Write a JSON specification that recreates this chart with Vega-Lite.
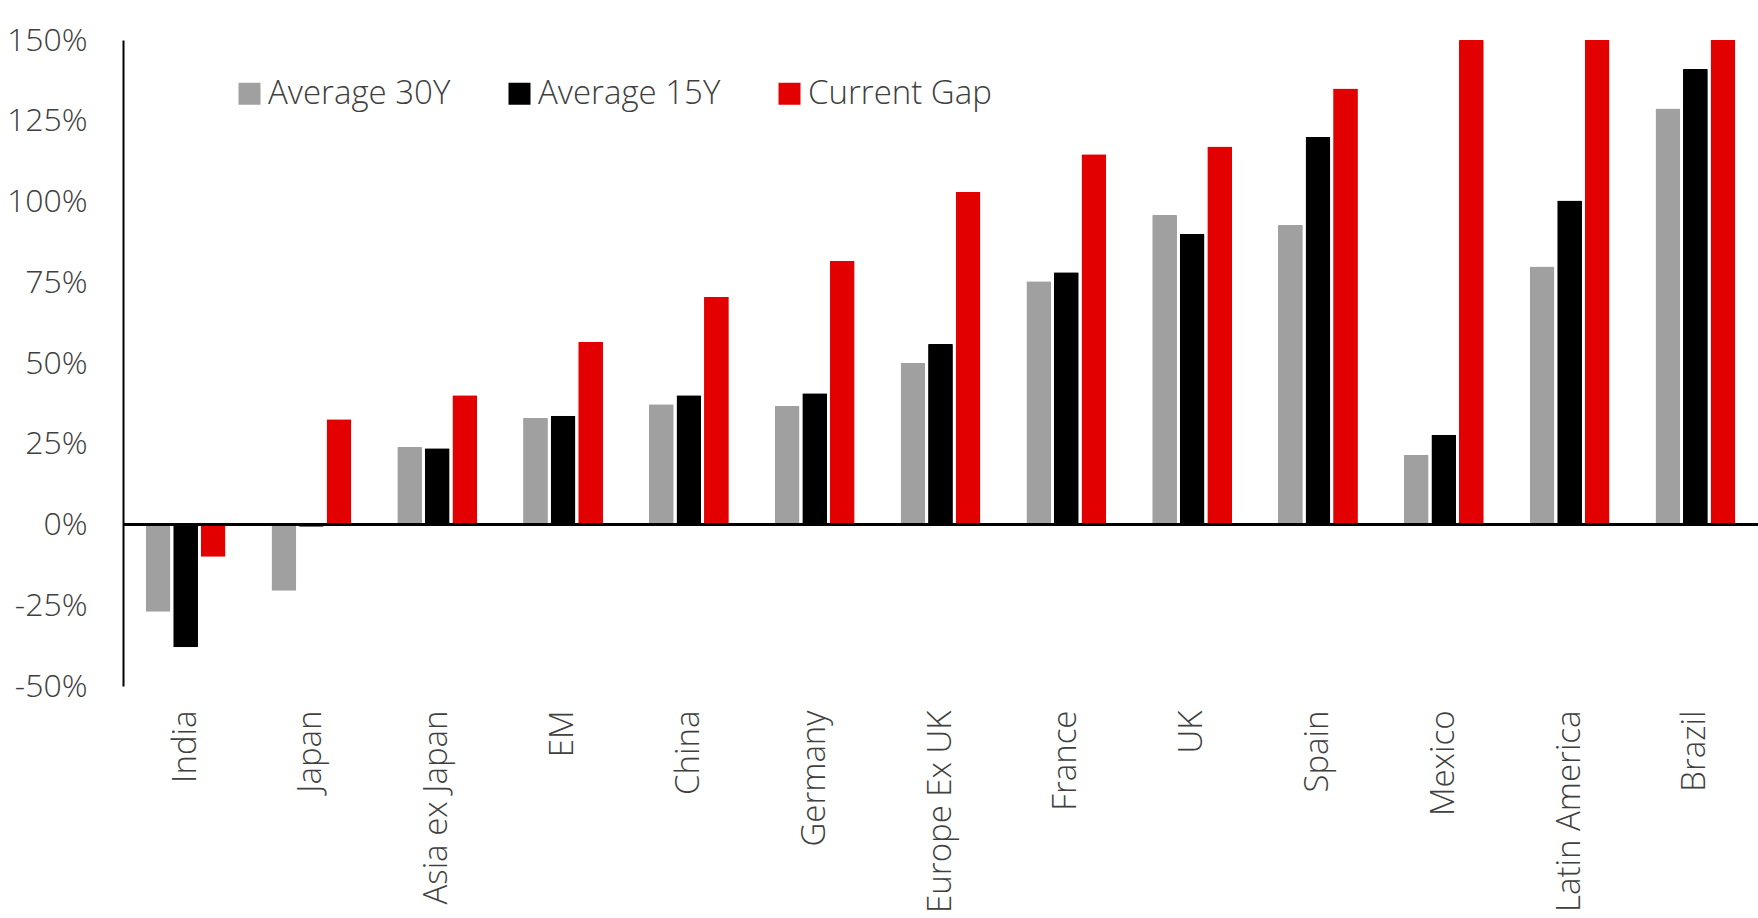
{
  "$schema": "https://vega.github.io/schema/vega-lite/v6.json",
  "width": 1635,
  "height": 646,
  "autosize": {"type": "none"},
  "padding": {"left": 123, "top": 40, "right": 0, "bottom": 232},
  "background": "white",
  "config": {
    "view": {"stroke": null},
    "axis": {"grid": false, "ticks": false}
  },
  "data": {
    "values": [
      {"country": "India", "series": "Average 30Y", "value": -0.27},
      {"country": "India", "series": "Average 15Y", "value": -0.38},
      {"country": "India", "series": "Current Gap", "value": -0.10},
      {"country": "Japan", "series": "Average 30Y", "value": -0.205},
      {"country": "Japan", "series": "Average 15Y", "value": -0.007},
      {"country": "Japan", "series": "Current Gap", "value": 0.326},
      {"country": "Asia ex Japan", "series": "Average 30Y", "value": 0.24},
      {"country": "Asia ex Japan", "series": "Average 15Y", "value": 0.236},
      {"country": "Asia ex Japan", "series": "Current Gap", "value": 0.40},
      {"country": "EM", "series": "Average 30Y", "value": 0.33},
      {"country": "EM", "series": "Average 15Y", "value": 0.337},
      {"country": "EM", "series": "Current Gap", "value": 0.566},
      {"country": "China", "series": "Average 30Y", "value": 0.372},
      {"country": "China", "series": "Average 15Y", "value": 0.40},
      {"country": "China", "series": "Current Gap", "value": 0.705},
      {"country": "Germany", "series": "Average 30Y", "value": 0.368},
      {"country": "Germany", "series": "Average 15Y", "value": 0.406},
      {"country": "Germany", "series": "Current Gap", "value": 0.816},
      {"country": "Europe Ex UK", "series": "Average 30Y", "value": 0.50},
      {"country": "Europe Ex UK", "series": "Average 15Y", "value": 0.559},
      {"country": "Europe Ex UK", "series": "Current Gap", "value": 1.03},
      {"country": "France", "series": "Average 30Y", "value": 0.753},
      {"country": "France", "series": "Average 15Y", "value": 0.781},
      {"country": "France", "series": "Current Gap", "value": 1.146},
      {"country": "UK", "series": "Average 30Y", "value": 0.958},
      {"country": "UK", "series": "Average 15Y", "value": 0.899},
      {"country": "UK", "series": "Current Gap", "value": 1.17},
      {"country": "Spain", "series": "Average 30Y", "value": 0.927},
      {"country": "Spain", "series": "Average 15Y", "value": 1.20},
      {"country": "Spain", "series": "Current Gap", "value": 1.35},
      {"country": "Mexico", "series": "Average 30Y", "value": 0.215},
      {"country": "Mexico", "series": "Average 15Y", "value": 0.278},
      {"country": "Mexico", "series": "Current Gap", "value": 1.5},
      {"country": "Latin America", "series": "Average 30Y", "value": 0.799},
      {"country": "Latin America", "series": "Average 15Y", "value": 1.003},
      {"country": "Latin America", "series": "Current Gap", "value": 1.5},
      {"country": "Brazil", "series": "Average 30Y", "value": 1.288},
      {"country": "Brazil", "series": "Average 15Y", "value": 1.41},
      {"country": "Brazil", "series": "Current Gap", "value": 1.5}
    ]
  },
  "layer": [
    {
      "mark": {"type": "bar", "cornerRadius": 1},
      "encoding": {
        "x": {
          "field": "country",
          "type": "nominal",
          "sort": null,
          "scale": {"paddingInner": 0.365, "paddingOuter": 0.18},
          "axis": {
            "title": null,
            "domain": false,
            "labelAngle": -90,
            "labelAlign": "right",
            "labelBaseline": "middle",
            "labelPadding": 24,
            "labelLimit": 0,
            "labelFont": "Open Sans",
            "labelFontWeight": 300,
            "labelFontSize": 33,
            "labelColor": "#404040"
          }
        },
        "xOffset": {
          "field": "series",
          "type": "nominal",
          "sort": ["Average 30Y", "Average 15Y", "Current Gap"],
          "scale": {"paddingInner": 0.1, "paddingOuter": 0}
        },
        "y": {
          "field": "value",
          "type": "quantitative",
          "scale": {"domain": [-0.5, 1.5], "nice": false, "zero": false},
          "axis": {
            "title": null,
            "values": [-0.5, -0.25, 0, 0.25, 0.5, 0.75, 1, 1.25, 1.5],
            "labelExpr": "round(datum.value * 100) + '%'",
            "labelFont": "Open Sans",
            "labelFontWeight": 300,
            "labelFontSize": 32,
            "labelColor": "#404040",
            "labelPadding": 36,
            "domainColor": "#000000",
            "domainWidth": 2
          }
        },
        "color": {
          "field": "series",
          "type": "nominal",
          "scale": {
            "domain": ["Average 30Y", "Average 15Y", "Current Gap"],
            "range": ["#A0A0A0", "#000000", "#E20000"]
          },
          "legend": {
            "title": null,
            "orient": "none",
            "direction": "horizontal",
            "legendX": 110,
            "legendY": 37,
            "symbolType": "square",
            "symbolSize": 484,
            "symbolStrokeWidth": 0,
            "labelFont": "Open Sans",
            "labelFontWeight": 300,
            "labelFontSize": 33,
            "labelColor": "#404040",
            "labelLimit": 0,
            "labelOffset": 2,
            "columnPadding": 52
          }
        }
      }
    },
    {
      "mark": {"type": "rule", "color": "#000000", "strokeWidth": 2},
      "encoding": {"y": {"datum": 0}}
    }
  ]
}
